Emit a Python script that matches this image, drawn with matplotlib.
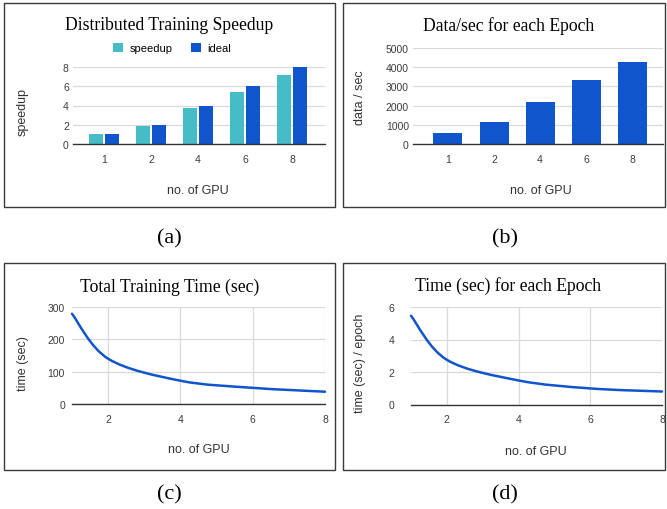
import matplotlib
matplotlib.use("Agg")
import matplotlib.pyplot as plt
from matplotlib.patches import Rectangle, PathPatch
from matplotlib.path import Path
import numpy as np

# ---- data ----
gpus = [1, 2, 4, 6, 8]
gpu_labels = ["1", "2", "4", "6", "8"]
speedup = [1.0, 1.92, 3.75, 5.42, 7.2]
ideal = [1, 2, 4, 6, 8]
data_per_sec = [565, 1130, 2200, 3330, 4250]
total_time = [279, 140, 72, 50, 38]
epoch_time = [5.46, 2.75, 1.48, 0.99, 0.80]

TEAL = "#46BDC6"
BLUE = "#1155CC"
GRID = "#d9d9d9"
W, H = 667, 510
SANS = "Liberation Sans"
SERIF = "Liberation Serif"

fig = plt.figure(figsize=(W / 100, H / 100), dpi=100)


def px_axes(l, t, r, b):
    return fig.add_axes([l / W, 1 - b / H, (r - l) / W, (b - t) / H])


def ftext(x, y, s, **kw):
    fig.text(x / W, 1 - y / H, s, ha="center", va="center", **kw)


def box(l, t, r, b):
    fig.add_artist(Rectangle((l / W, 1 - b / H), (r - l) / W, (b - t) / H,
                             transform=fig.transFigure, fill=False,
                             edgecolor="#3a3a3a", lw=1.0))


def style(ax, ypad=3, vgrid=False):
    for s in ["top", "right", "left"]:
        ax.spines[s].set_visible(False)
    ax.spines["bottom"].set_color("#333333")
    ax.spines["bottom"].set_linewidth(1.0)
    ax.set_axisbelow(True)
    ax.grid(axis="y", color=GRID, lw=0.9)
    if vgrid:
        ax.grid(axis="x", color=GRID, lw=0.9)
    ax.tick_params(length=0, labelsize=7.5, labelcolor="#3c3c3c")
    ax.tick_params(axis="y", pad=ypad)
    ax.tick_params(axis="x", pad=7)
    for lab in ax.get_xticklabels() + ax.get_yticklabels():
        lab.set_fontfamily(SANS)


def smooth_line(ax, xs, ys):
    # Catmull-Rom style cubic segments through the data points
    pts = np.column_stack([xs, ys]).astype(float)
    verts = [pts[0]]
    codes = [Path.MOVETO]
    n = len(pts)
    for i in range(n - 1):
        p0 = pts[max(i - 1, 0)]
        p1 = pts[i]
        p2 = pts[i + 1]
        p3 = pts[min(i + 2, n - 1)]
        c1 = p1 + (p2 - p0) / 6
        c2 = p2 - (p3 - p1) / 6
        verts += [c1, c2, p2]
        codes += [Path.CURVE4] * 3
    ax.add_patch(PathPatch(Path(verts, codes), fill=False, edgecolor=BLUE,
                           lw=1.8, capstyle="round", clip_on=False))


# ---- panel boxes and captions ----
box(4, 4, 335, 208)
box(343, 4, 665, 208)
box(4, 264, 335, 471)
box(343, 264, 665, 471)
ftext(169, 239, "(a)", family=SERIF, fontsize=16)
ftext(505, 239, "(b)", family=SERIF, fontsize=16)
ftext(169, 495, "(c)", family=SERIF, fontsize=16)
ftext(505, 495, "(d)", family=SERIF, fontsize=16)

# ---- (a) speedup ----
ax = px_axes(73, 68, 325, 145)
idx = np.arange(len(gpus))
b1 = ax.bar(idx - 0.17, speedup, width=0.29, color=TEAL, label="speedup")
b2 = ax.bar(idx + 0.17, ideal, width=0.29, color=BLUE, label="ideal")
ax.set_xlim(-0.66, 4.70)
ax.set_ylim(0, 8)
ax.set_yticks([0, 2, 4, 6, 8])
ax.set_xticks(idx)
ax.set_xticklabels(gpu_labels)
style(ax)
ax.legend(handles=[b1, b2], loc="center", bbox_to_anchor=(172 / W, 1 - 49 / H),
          bbox_transform=fig.transFigure, ncol=2, frameon=False,
          handlelength=0.9, handleheight=0.9, columnspacing=1.6, handletextpad=0.6,
          prop={"family": SANS, "size": 8})
ftext(169, 25, "Distributed Training Speedup", family=SERIF, fontsize=12.7)
ftext(23, 112, "speedup", family=SANS, fontsize=9, rotation=90, color="#333333")
ftext(198, 191, "no. of GPU", family=SANS, fontsize=9, color="#333333")

# ---- (b) data/sec ----
ax = px_axes(413, 49, 663, 145)
ax.bar(idx, data_per_sec, width=0.63, color=BLUE)
ax.set_xlim(-0.76, 4.67)
ax.set_ylim(0, 5000)
ax.set_yticks([0, 1000, 2000, 3000, 4000, 5000])
ax.set_xticks(idx)
ax.set_xticklabels(gpu_labels)
style(ax)
ftext(509, 26, "Data/sec for each Epoch", family=SERIF, fontsize=12.7)
ftext(360, 98, "data / sec", family=SANS, fontsize=9, rotation=90, color="#333333")
ftext(541, 191, "no. of GPU", family=SANS, fontsize=9, color="#333333")

# ---- (c) total training time ----
ax = px_axes(72, 308, 325, 405)
smooth_line(ax, gpus, total_time)
ax.set_xlim(1, 8)
ax.set_ylim(0, 300)
ax.set_xticks([2, 4, 6, 8])
ax.set_yticks([0, 100, 200, 300])
style(ax, ypad=5, vgrid=True)
ftext(170, 287, "Total Training Time (sec)", family=SERIF, fontsize=12.7)
ftext(23, 364, "time (sec)", family=SANS, fontsize=9, rotation=90, color="#333333")
ftext(199, 450, "no. of GPU", family=SANS, fontsize=9, color="#333333")

# ---- (d) time per epoch ----
ax = px_axes(411, 308, 662, 405.5)
smooth_line(ax, gpus, epoch_time)
ax.set_xlim(1, 8)
ax.set_ylim(0, 6)
ax.set_xticks([2, 4, 6, 8])
ax.set_yticks([0, 2, 4, 6])
style(ax, ypad=12, vgrid=True)
ftext(508, 286, "Time (sec) for each Epoch", family=SERIF, fontsize=12.7)
ftext(360, 363, "time (sec) / epoch", family=SANS, fontsize=9, rotation=90, color="#333333")
ftext(536, 452, "no. of GPU", family=SANS, fontsize=9, color="#333333")

fig.savefig("out.png", dpi=100)
